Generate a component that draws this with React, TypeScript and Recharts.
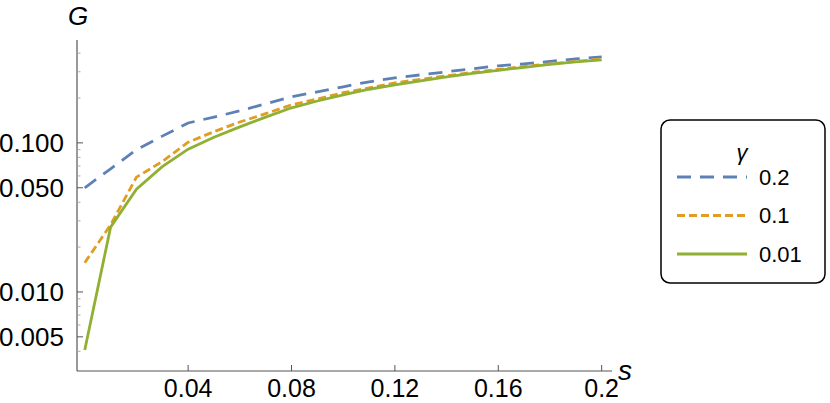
import { LineChart, Line, XAxis, YAxis, Legend } from "recharts";

const S = [0, 0.01, 0.02, 0.03, 0.04, 0.05, 0.06, 0.07, 0.08, 0.09, 0.1, 0.11, 0.12, 0.13, 0.14, 0.15, 0.16, 0.17, 0.18, 0.19, 0.2];
const G_02 = [0.05, 0.067, 0.09, 0.111, 0.136, 0.149, 0.164, 0.183, 0.204, 0.22, 0.238, 0.257, 0.273, 0.286, 0.3, 0.314, 0.329, 0.339, 0.352, 0.366, 0.377];
const G_01 = [0.0157, 0.0282, 0.0589, 0.075, 0.101, 0.119, 0.138, 0.157, 0.18, 0.197, 0.217, 0.234, 0.253, 0.267, 0.282, 0.297, 0.311, 0.326, 0.339, 0.352, 0.366];
const G_001 = [0.00408, 0.0272, 0.0489, 0.0693, 0.0908, 0.109, 0.128, 0.149, 0.172, 0.191, 0.21, 0.229, 0.245, 0.261, 0.277, 0.293, 0.307, 0.321, 0.336, 0.35, 0.361];

const GAMMAS = ["0.2", "0.1", "0.01"];
const X_TICKS = [0.04, 0.08, 0.12, 0.16, 0.2];
const Y_MAJOR = [0.005, 0.01, 0.05, 0.1];
const Y_MINOR = [0.004, 0.006, 0.007, 0.008, 0.009, 0.02, 0.03, 0.04, 0.06, 0.07, 0.08, 0.09, 0.2, 0.3, 0.4];

const COLORS = ["#5e81b5", "#e19c24", "#8fb032"];
const DASHES = ["14 9", "8 4", undefined];
const KEYS = ["g02", "g01", "g001"];

const FONT = "'Liberation Sans', Arial, sans-serif";
const AXIS = "#555";

const data = S.map((s, i) => ({ s, g02: G_02[i], g01: G_01[i], g001: G_001[i] }));

const YTick = ({ x, y, payload }: any) => {
  const major = Y_MAJOR.includes(payload.value);
  const ax = x + 13;
  return (
    <g>
      <line x1={ax} x2={ax + (major ? 6 : 3.5)} y1={y} y2={y} stroke={major ? AXIS : "#aaa"} />
      {major && (
        <text x={x} y={y} textAnchor="end" dominantBaseline="central" fontSize={26} fontFamily={FONT} fill="#000">
          {payload.value.toFixed(3)}
        </text>
      )}
    </g>
  );
};

const XTick = ({ x, y, payload }: any) => {
  const ay = y - 17;
  return (
    <g>
      <line x1={x} x2={x} y1={ay} y2={ay - 6} stroke={AXIS} />
      <text x={x} y={y} textAnchor="middle" dominantBaseline="central" fontSize={25} fontFamily={FONT} fill="#000">
        {String(payload.value)}
      </text>
    </g>
  );
};

const LegendBox = () => (
  <svg width={166} height={165}>
    <rect x={1} y={1} width={164} height={163} rx={9} fill="#fff" stroke="#000" strokeWidth={1.5} />
    <text x={82} y={41} textAnchor="middle" fontSize={22} fontStyle="italic" fontFamily={FONT}>
      γ
    </text>
    {GAMMAS.map((g, i) => {
      const cy = 58 + i * 38.5;
      return (
        <g key={g}>
          <line x1={17} x2={87} y1={cy} y2={cy} stroke={COLORS[i]} strokeWidth={3} strokeDasharray={DASHES[i]} />
          <text x={99} y={cy} dominantBaseline="central" fontSize={22} fontFamily={FONT}>
            {g}
          </text>
        </g>
      );
    })}
  </svg>
);

export default function App() {
  return (
    <div style={{ position: "absolute", left: 0, top: 0, background: "#fff" }}>
      <LineChart width={830} height={403} data={data} margin={{ top: 40, right: 218, bottom: 0, left: 0 }}>
        <XAxis
          dataKey="s"
          type="number"
          domain={[-0.003, 0.204]}
          ticks={X_TICKS}
          interval={0}
          allowDataOverflow
          height={32}
          tickSize={0}
          tickMargin={17}
          tickLine={false}
          tick={<XTick />}
          axisLine={{ stroke: AXIS, strokeWidth: 1.2 }}
          label={{
            content: ({ viewBox }: any) => (
              <text x={viewBox.x + viewBox.width + 13} y={viewBox.y + 9} textAnchor="middle" fontSize={28} fontStyle="italic" fontFamily={FONT}>
                s
              </text>
            ),
          }}
        />
        <YAxis
          type="number"
          scale="log"
          domain={[0.00295, 0.49]}
          ticks={[...Y_MAJOR, ...Y_MINOR]}
          interval={0}
          allowDataOverflow
          width={77}
          tickSize={0}
          tickMargin={13}
          tickLine={false}
          tick={<YTick />}
          axisLine={{ stroke: AXIS, strokeWidth: 1.2 }}
          label={{
            content: ({ viewBox }: any) => (
              <text x={viewBox.x + viewBox.width + 1} y={viewBox.y - 15} textAnchor="middle" fontSize={26} fontStyle="italic" fontFamily={FONT}>
                G
              </text>
            ),
          }}
        />
        <Legend
          layout="vertical"
          align="center"
          verticalAlign="middle"
          content={<LegendBox />}
          wrapperStyle={{ left: 660, top: 119, width: 166, height: 165 }}
        />
        {KEYS.map((k, i) => (
          <Line
            key={k}
            dataKey={k}
            name={GAMMAS[i]}
            type="linear"
            stroke={COLORS[i]}
            strokeWidth={2.8}
            strokeDasharray={DASHES[i]}
            dot={false}
            activeDot={false}
            isAnimationActive={false}
          />
        ))}
      </LineChart>
    </div>
  );
}
